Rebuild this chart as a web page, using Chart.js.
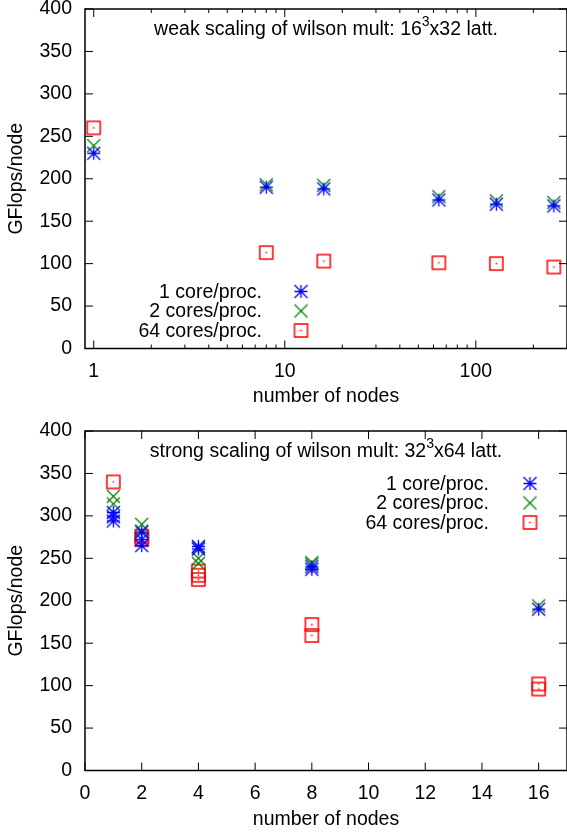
<!DOCTYPE html>
<html>
<head>
<meta charset="utf-8">
<script src="https://cdn.jsdelivr.net/npm/chart.js@4.4.1/dist/chart.umd.min.js"></script>
<style>
html, body { margin: 0; padding: 0; background: #fff; overflow: hidden; }
canvas { display: block; }
</style>
</head>
<body>
<canvas id="weak" width="576" height="417"></canvas>
<canvas id="strong" width="576" height="417"></canvas>
<script>
"use strict";

// weak scaling, 16^3x32 lattice
var weakNodes = [1, 8, 16, 64, 128, 256];
var weak1core = [230, 190, 188, 175, 170, 168];
var weak2cores = [239, 193, 192, 179, 174, 172];
var weak64cores = [260, 113, 103, 101, 100, 96];
var weakXTicks = [1, 10, 100];

// strong scaling, 32^3x64 lattice (several runs per node count)
var strong1coreNodes = [1, 1, 1, 2, 2, 2, 4, 4, 8, 8, 16];
var strong1core = [304, 299, 294, 281, 272, 265, 264, 261, 240, 237, 190];
var strong2coresNodes = [1, 1, 2, 2, 4, 4, 4, 8, 8, 16];
var strong2cores = [323, 314, 290, 282, 262, 250, 244, 245, 243, 194];
var strong64coresNodes = [1, 2, 2, 4, 4, 4, 8, 8, 16, 16];
var strong64cores = [340, 276, 272, 235, 230, 225, 172, 159, 102, 96];
var strongXTicks = [0, 2, 4, 6, 8, 10, 12, 14, 16];

var yTicks = [0, 50, 100, 150, 200, 250, 300, 350, 400];
var legendLabels = ["1 core/proc.", "2 cores/proc.", "64 cores/proc."];

var FONT = '"Liberation Sans", Arial, sans-serif';
var FS = 19.5;
Chart.defaults.font.family = FONT;
Chart.defaults.font.size = FS;
Chart.defaults.color = "#000";

// gnuplot-like point symbols
function makeMarker(kind, color) {
    var c = document.createElement("canvas");
    c.width = 17; c.height = 17;
    var g = c.getContext("2d");
    var m = 8.5, r = 6.5;
    g.strokeStyle = color;
    g.fillStyle = color;
    g.lineWidth = kind === "box" ? 1.5 : 1.3;
    g.beginPath();
    if (kind === "star" || kind === "x") {
        g.moveTo(m - r, m - r); g.lineTo(m + r, m + r);
        g.moveTo(m - r, m + r); g.lineTo(m + r, m - r);
    }
    if (kind === "star") {
        g.moveTo(m - r, m); g.lineTo(m + r, m);
        g.moveTo(m, m - r); g.lineTo(m, m + r);
    }
    if (kind === "box") {
        g.rect(m - r, m - r, 2 * r, 2 * r);
    }
    g.stroke();
    if (kind === "box") g.fillRect(m - 0.75, m - 0.75, 1.5, 1.5);
    return c;
}
var markers = [
    makeMarker("star", "#0000ff"),
    makeMarker("x", "#008000"),
    makeMarker("box", "#ff0000")
];

function pts(xs, ys) {
    return xs.map(function (x, i) { return {x: x, y: ys[i]}; });
}

// frame, inward ticks, key and title drawn gnuplot style
var gnuplotFrame = {
    id: "gnuplotFrame",
    afterDatasetsDraw: function (chart, args, o) {
        var ctx = chart.ctx, a = chart.chartArea;
        var xs = chart.scales.x, ys = chart.scales.y;
        ctx.save();
        ctx.strokeStyle = "#000";
        ctx.lineWidth = 1;
        ctx.beginPath();
        o.yTicks.forEach(function (v) {
            var y = ys.getPixelForValue(v);
            ctx.moveTo(a.left, y); ctx.lineTo(a.left + 8, y);
            ctx.moveTo(a.right, y); ctx.lineTo(a.right - 8, y);
        });
        o.xTicks.forEach(function (v) {
            var x = xs.getPixelForValue(v);
            ctx.moveTo(x, a.bottom); ctx.lineTo(x, a.bottom - 8);
            ctx.moveTo(x, a.top); ctx.lineTo(x, a.top + 8);
        });
        (o.xMinor || []).forEach(function (v) {
            var x = xs.getPixelForValue(v);
            ctx.moveTo(x, a.bottom); ctx.lineTo(x, a.bottom - 4);
            ctx.moveTo(x, a.top); ctx.lineTo(x, a.top + 4);
        });
        ctx.stroke();
        ctx.lineWidth = 1.5;
        ctx.strokeRect(a.left, a.top, a.right - a.left, a.bottom - a.top);

        // title with superscript
        ctx.fillStyle = "#000";
        ctx.textBaseline = "alphabetic";
        ctx.textAlign = "left";
        var big = FS + "px " + FONT, small = "14px " + FONT;
        ctx.font = big;
        var w1 = ctx.measureText(o.title[0]).width, w3 = ctx.measureText(o.title[2]).width;
        ctx.font = small;
        var w2 = ctx.measureText(o.title[1]).width;
        var tx = (a.left + a.right) / 2 - (w1 + w2 + w3) / 2, ty = a.top + 26;
        ctx.font = big;
        ctx.fillText(o.title[0], tx, ty);
        ctx.font = small;
        ctx.fillText(o.title[1], tx + w1, ty - 9);
        ctx.font = big;
        ctx.fillText(o.title[2], tx + w1 + w2, ty);

        // key
        ctx.textAlign = "right";
        ctx.textBaseline = "middle";
        o.labels.forEach(function (t, i) {
            var y = o.keyTop + i * 19.5;
            ctx.fillText(t, o.keyText, y + 1);
            ctx.drawImage(markers[i], o.keyMark - 8.5, y - 8.5);
        });
        ctx.restore();
    }
};

function fixY(s) { s.width = 85; s.paddingTop = 0; s.paddingBottom = 0; }

function baseOptions(xScale, frame, top, xHeight, titlePad) {
    xScale.afterFit = function (s) {
        s.height = xHeight; s.paddingLeft = 0; s.paddingRight = 0;
    };
    xScale.grid = {display: false, drawTicks: false};
    xScale.border = {display: false};
    xScale.title = {display: true, text: "number of nodes", font: {size: FS}, padding: {top: 0, bottom: titlePad}};
    return {
        responsive: false,
        animation: false,
        layout: {padding: {left: 0, right: 6, top: top, bottom: 0}},
        plugins: {legend: {display: false}, tooltip: {enabled: false}, gnuplotFrame: frame},
        scales: {
            x: xScale,
            y: {
                min: 0, max: 400,
                afterBuildTicks: function (s) { s.ticks = yTicks.map(function (v) { return {value: v}; }); },
                afterFit: fixY,
                grid: {display: false, drawTicks: false},
                border: {display: false},
                ticks: {padding: 13, font: {size: FS}},
                title: {display: true, text: "GFlops/node", font: {size: FS}, padding: {top: 5, bottom: 0}}
            }
        }
    };
}

function dataset(label, data, i) {
    return {label: label, data: data, pointStyle: markers[i], pointRadius: 8, showLine: false};
}

// Weak scaling chart
var minorLog = [];
[1, 10, 100].forEach(function (d) {
    for (var k = 2; k <= 9; k++) if (d * k <= 300) minorLog.push(d * k);
});

new Chart(document.getElementById("weak").getContext("2d"), {
    type: "scatter",
    plugins: [gnuplotFrame],
    data: {
        datasets: [
            dataset(legendLabels[0], pts(weakNodes, weak1core), 0),
            dataset(legendLabels[1], pts(weakNodes, weak2cores), 1),
            dataset(legendLabels[2], pts(weakNodes, weak64cores), 2)
        ]
    },
    options: baseOptions({
        type: "logarithmic", min: 0.9, max: 300,
        afterBuildTicks: function (s) { s.ticks = weakXTicks.map(function (v) { return {value: v}; }); },
        ticks: {padding: 11, autoSkip: false, maxRotation: 0, font: {size: FS}, callback: function (v) { return String(v); }}
    }, {
        yTicks: yTicks, xTicks: weakXTicks, xMinor: minorLog,
        title: ["weak scaling of wilson mult: 16", "3", "x32 latt."],
        labels: legendLabels, keyText: 262, keyMark: 301, keyTop: 291.5
    }, 8, 68.5, 8.6)
});

// Strong scaling chart
new Chart(document.getElementById("strong").getContext("2d"), {
    type: "scatter",
    plugins: [gnuplotFrame],
    data: {
        datasets: [
            dataset(legendLabels[0], pts(strong1coreNodes, strong1core), 0),
            dataset(legendLabels[1], pts(strong2coresNodes, strong2cores), 1),
            dataset(legendLabels[2], pts(strong64coresNodes, strong64cores), 2)
        ]
    },
    options: baseOptions({
        type: "linear", min: 0, max: 17,
        afterBuildTicks: function (s) { s.ticks = strongXTicks.map(function (v) { return {value: v}; }); },
        ticks: {padding: 11, autoSkip: false, maxRotation: 0, font: {size: FS}}
    }, {
        yTicks: yTicks, xTicks: strongXTicks,
        title: ["strong scaling of wilson mult: 32", "3", "x64 latt."],
        labels: legendLabels, keyText: 489, keyMark: 530, keyTop: 66.5
    }, 14, 63.5, 2.6)
});
</script>
</body>
</html>
